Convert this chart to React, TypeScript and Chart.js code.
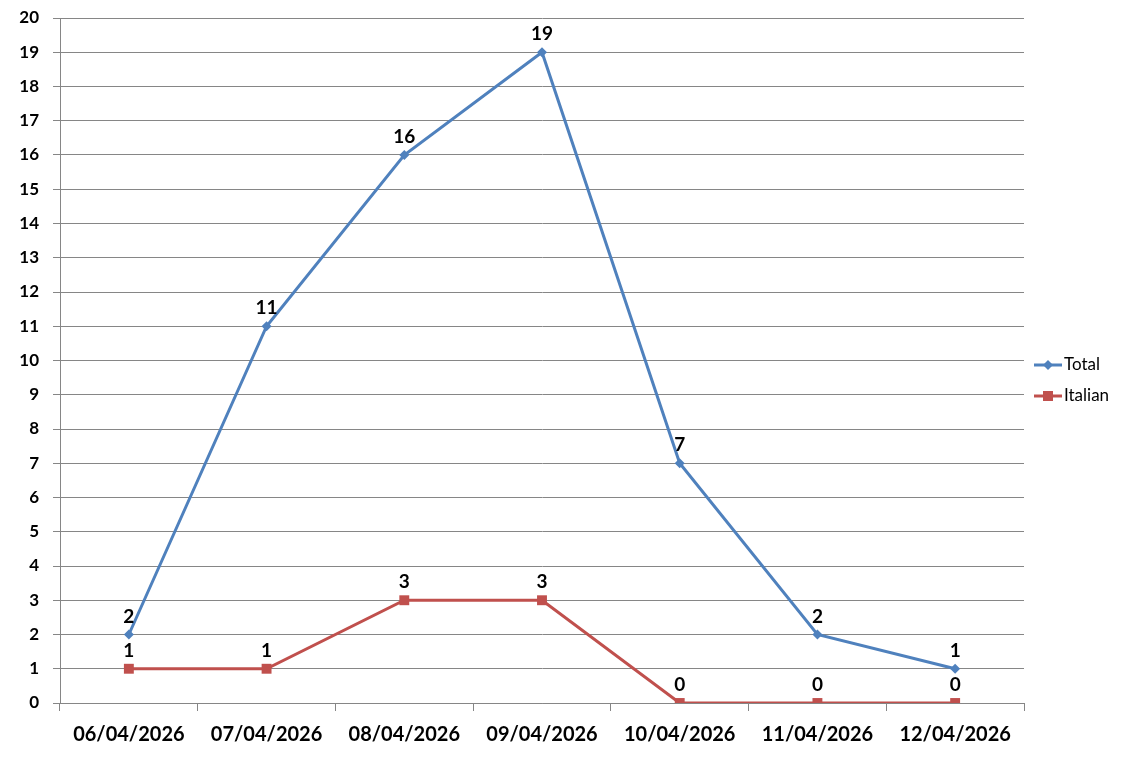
import React, { useEffect, useRef } from "react";
import { Chart, registerables } from "chart.js";

Chart.register(...registerables);

const categories = ["06/04/2026", "07/04/2026", "08/04/2026", "09/04/2026", "10/04/2026", "11/04/2026", "12/04/2026"];
const totalValues = [2, 11, 16, 19, 7, 2, 1];
const italianValues = [1, 1, 3, 3, 0, 0, 0];
const seriesNames = ["Total", "Italian"];
const yMin = 0;
const yMax = 20;
const yStep = 1;

const FONT = "Lato, 'Open Sans', 'DejaVu Sans', sans-serif";
const BLUE = "#4F81BD";
const RED = "#C0504D";
const GRID = "#868686";

const labelPlugin = {
  id: "dataLabels",
  afterDatasetsDraw(chart: any) {
    const ctx = chart.ctx;
    ctx.save();
    ctx.font = `bold 19px ${FONT}`;
    ctx.fillStyle = "#000";
    ctx.textAlign = "center";
    ctx.textBaseline = "middle";
    chart.data.datasets.forEach((ds: any, i: number) => {
      const meta = chart.getDatasetMeta(i);
      meta.data.forEach((pt: any, j: number) => {
        ctx.fillText(String(ds.data[j]), pt.x, pt.y - 18);
      });
    });
    ctx.restore();
  },
};

const legendPlugin = {
  id: "customLegend",
  afterDraw(chart: any) {
    const ctx = chart.ctx;
    ctx.save();
    const items = [
      { name: seriesNames[0], color: BLUE, shape: "diamond", y: 365 },
      { name: seriesNames[1], color: RED, shape: "square", y: 396 },
    ];
    items.forEach((it) => {
      ctx.strokeStyle = it.color;
      ctx.lineWidth = 3;
      ctx.beginPath();
      ctx.moveTo(1034, it.y);
      ctx.lineTo(1062, it.y);
      ctx.stroke();
      ctx.fillStyle = it.color;
      const cx = 1048;
      if (it.shape === "diamond") {
        ctx.beginPath();
        ctx.moveTo(cx, it.y - 5);
        ctx.lineTo(cx + 5, it.y);
        ctx.lineTo(cx, it.y + 5);
        ctx.lineTo(cx - 5, it.y);
        ctx.closePath();
        ctx.fill();
      } else {
        ctx.fillRect(cx - 5, it.y - 5, 10, 10);
      }
      ctx.fillStyle = "#000";
      ctx.font = `17px ${FONT}`;
      ctx.textAlign = "left";
      ctx.textBaseline = "middle";
      ctx.fillText(it.name, 1064, it.y);
    });
    ctx.restore();
  },
};

const bgPlugin = {
  id: "bg",
  beforeDraw(chart: any) {
    const ctx = chart.ctx;
    ctx.save();
    ctx.fillStyle = "#fff";
    ctx.fillRect(0, 0, chart.width, chart.height);
    ctx.restore();
  },
};

export default function App() {
  const ref = useRef<HTMLCanvasElement>(null);
  useEffect(() => {
    if (!ref.current) return;
    const chart = new Chart(ref.current, {
      type: "line",
      data: {
        labels: categories,
        datasets: [
          {
            label: seriesNames[0],
            data: totalValues,
            borderColor: BLUE,
            backgroundColor: BLUE,
            borderWidth: 3,
            pointStyle: "rectRot",
            pointRadius: 5,
            pointBorderWidth: 0,
            tension: 0,
          },
          {
            label: seriesNames[1],
            data: italianValues,
            borderColor: RED,
            backgroundColor: RED,
            borderWidth: 3,
            pointStyle: "rect",
            pointRadius: 7,
            pointBorderWidth: 0,
            tension: 0,
          },
        ],
      },
      options: {
        animation: false,
        responsive: false,
        maintainAspectRatio: false,
        layout: { padding: { top: 18, right: 112, left: 0, bottom: 0 } },
        plugins: {
          legend: { display: false },
          tooltip: { enabled: false },
        },
        scales: {
          x: {
            offset: true,
            grid: {
              offset: true,
              drawOnChartArea: false,
              drawTicks: true,
              tickLength: 8,
              color: GRID,
            },
            border: { color: GRID, width: 1 },
            ticks: {
              color: "#000",
              font: { family: FONT, size: 20, weight: "bold" },
              padding: 12,
              maxRotation: 0,
              autoSkip: false,
            },
            afterFit(scale: any) {
              scale.height = 61;
              scale.paddingLeft = 0;
              scale.paddingRight = 0;
            },
          },
          y: {
            min: yMin,
            max: yMax,
            grid: { color: GRID, tickLength: 7, drawTicks: true },
            border: { color: GRID, width: 1 },
            ticks: {
              stepSize: yStep,
              color: "#000",
              font: { family: FONT, size: 17, weight: "bold" },
              padding: 14,
            },
            afterFit(scale: any) {
              scale.width = 60;
              scale.paddingTop = 0;
              scale.paddingBottom = 0;
            },
          },
        },
      },
      plugins: [bgPlugin, labelPlugin, legendPlugin],
    });
    return () => chart.destroy();
  }, []);
  return (
    <div style={{ position: "fixed", left: 0, top: 0, width: 1136, height: 764, background: "#fff" }}>
      <canvas ref={ref} width={1136} height={764} style={{ width: 1136, height: 764 }} />
    </div>
  );
}
